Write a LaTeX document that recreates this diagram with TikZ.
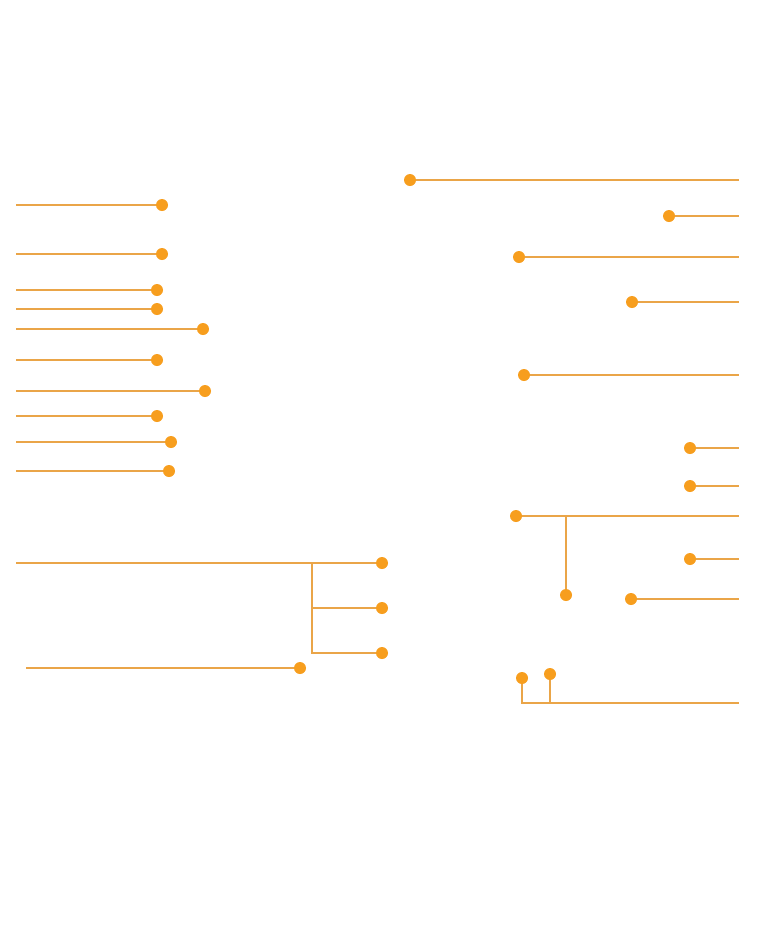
\documentclass[tikz,border=0pt]{standalone}
\begin{document}
\begin{tikzpicture}[x=1pt,y=-1pt,
  dotc/.style={circle,fill=dotorange,draw=none,inner sep=0pt,minimum size=12pt},
  lead/.style={draw=lineorange,line width=1.3pt}]
\definecolor{dotorange}{HTML}{F79E1E}
\definecolor{lineorange}{HTML}{EAA548}
\useasboundingbox (0,0) rectangle (761,938);
% left column
\foreach \i/\x/\y in {a/162/205,b/162/254,c/157/290,d/157/309,e/203/329,f/157/360,g/205/391,h/157/416,i/171/442,j/169/471}{
  \coordinate (L\i) at (16,\y);
  \node[dotc] (D\i) at (\x,\y) {};
  \draw[lead] (L\i) -- (D\i);
}
% bottom left group
\coordinate (Lk) at (16,563);
\coordinate (Vk) at (312,563);
\coordinate (Vm) at (312,608);
\coordinate (Vn) at (312,653);
\node[dotc] (Dk) at (382,563) {};
\node[dotc] (Dm) at (382,608) {};
\node[dotc] (Dn) at (382,653) {};
\draw[lead] (Lk) -- (Dk);
\draw[lead] (Vk) -- (Vn) -- (Dn);
\draw[lead] (Vm) -- (Dm);
\coordinate (Lo) at (26,668);
\node[dotc] (Do) at (300,668) {};
\draw[lead] (Lo) -- (Do);
% right column
\foreach \i/\x/\y in {a/410/180,b/669/216,c/519/257,d/632/302,e/524/375,f/690/448,g/690/486,h/516/516,i/690/559,j/631/599}{
  \coordinate (R\i) at (739,\y);
  \node[dotc] (E\i) at (\x,\y) {};
  \draw[lead] (E\i) -- (R\i);
}
\coordinate (Vh) at (566,516);
\node[dotc] (Ek) at (566,595) {};
\draw[lead] (Vh) -- (Ek);
% bottom right group
\coordinate (Rb) at (739,703);
\coordinate (Cb1) at (522,703);
\coordinate (Cb2) at (550,703);
\node[dotc] (Em) at (522,678) {};
\node[dotc] (En) at (550,674) {};
\draw[lead] (Em) -- (Cb1) -- (Rb);
\draw[lead] (En) -- (Cb2);
\end{tikzpicture}
\end{document}
